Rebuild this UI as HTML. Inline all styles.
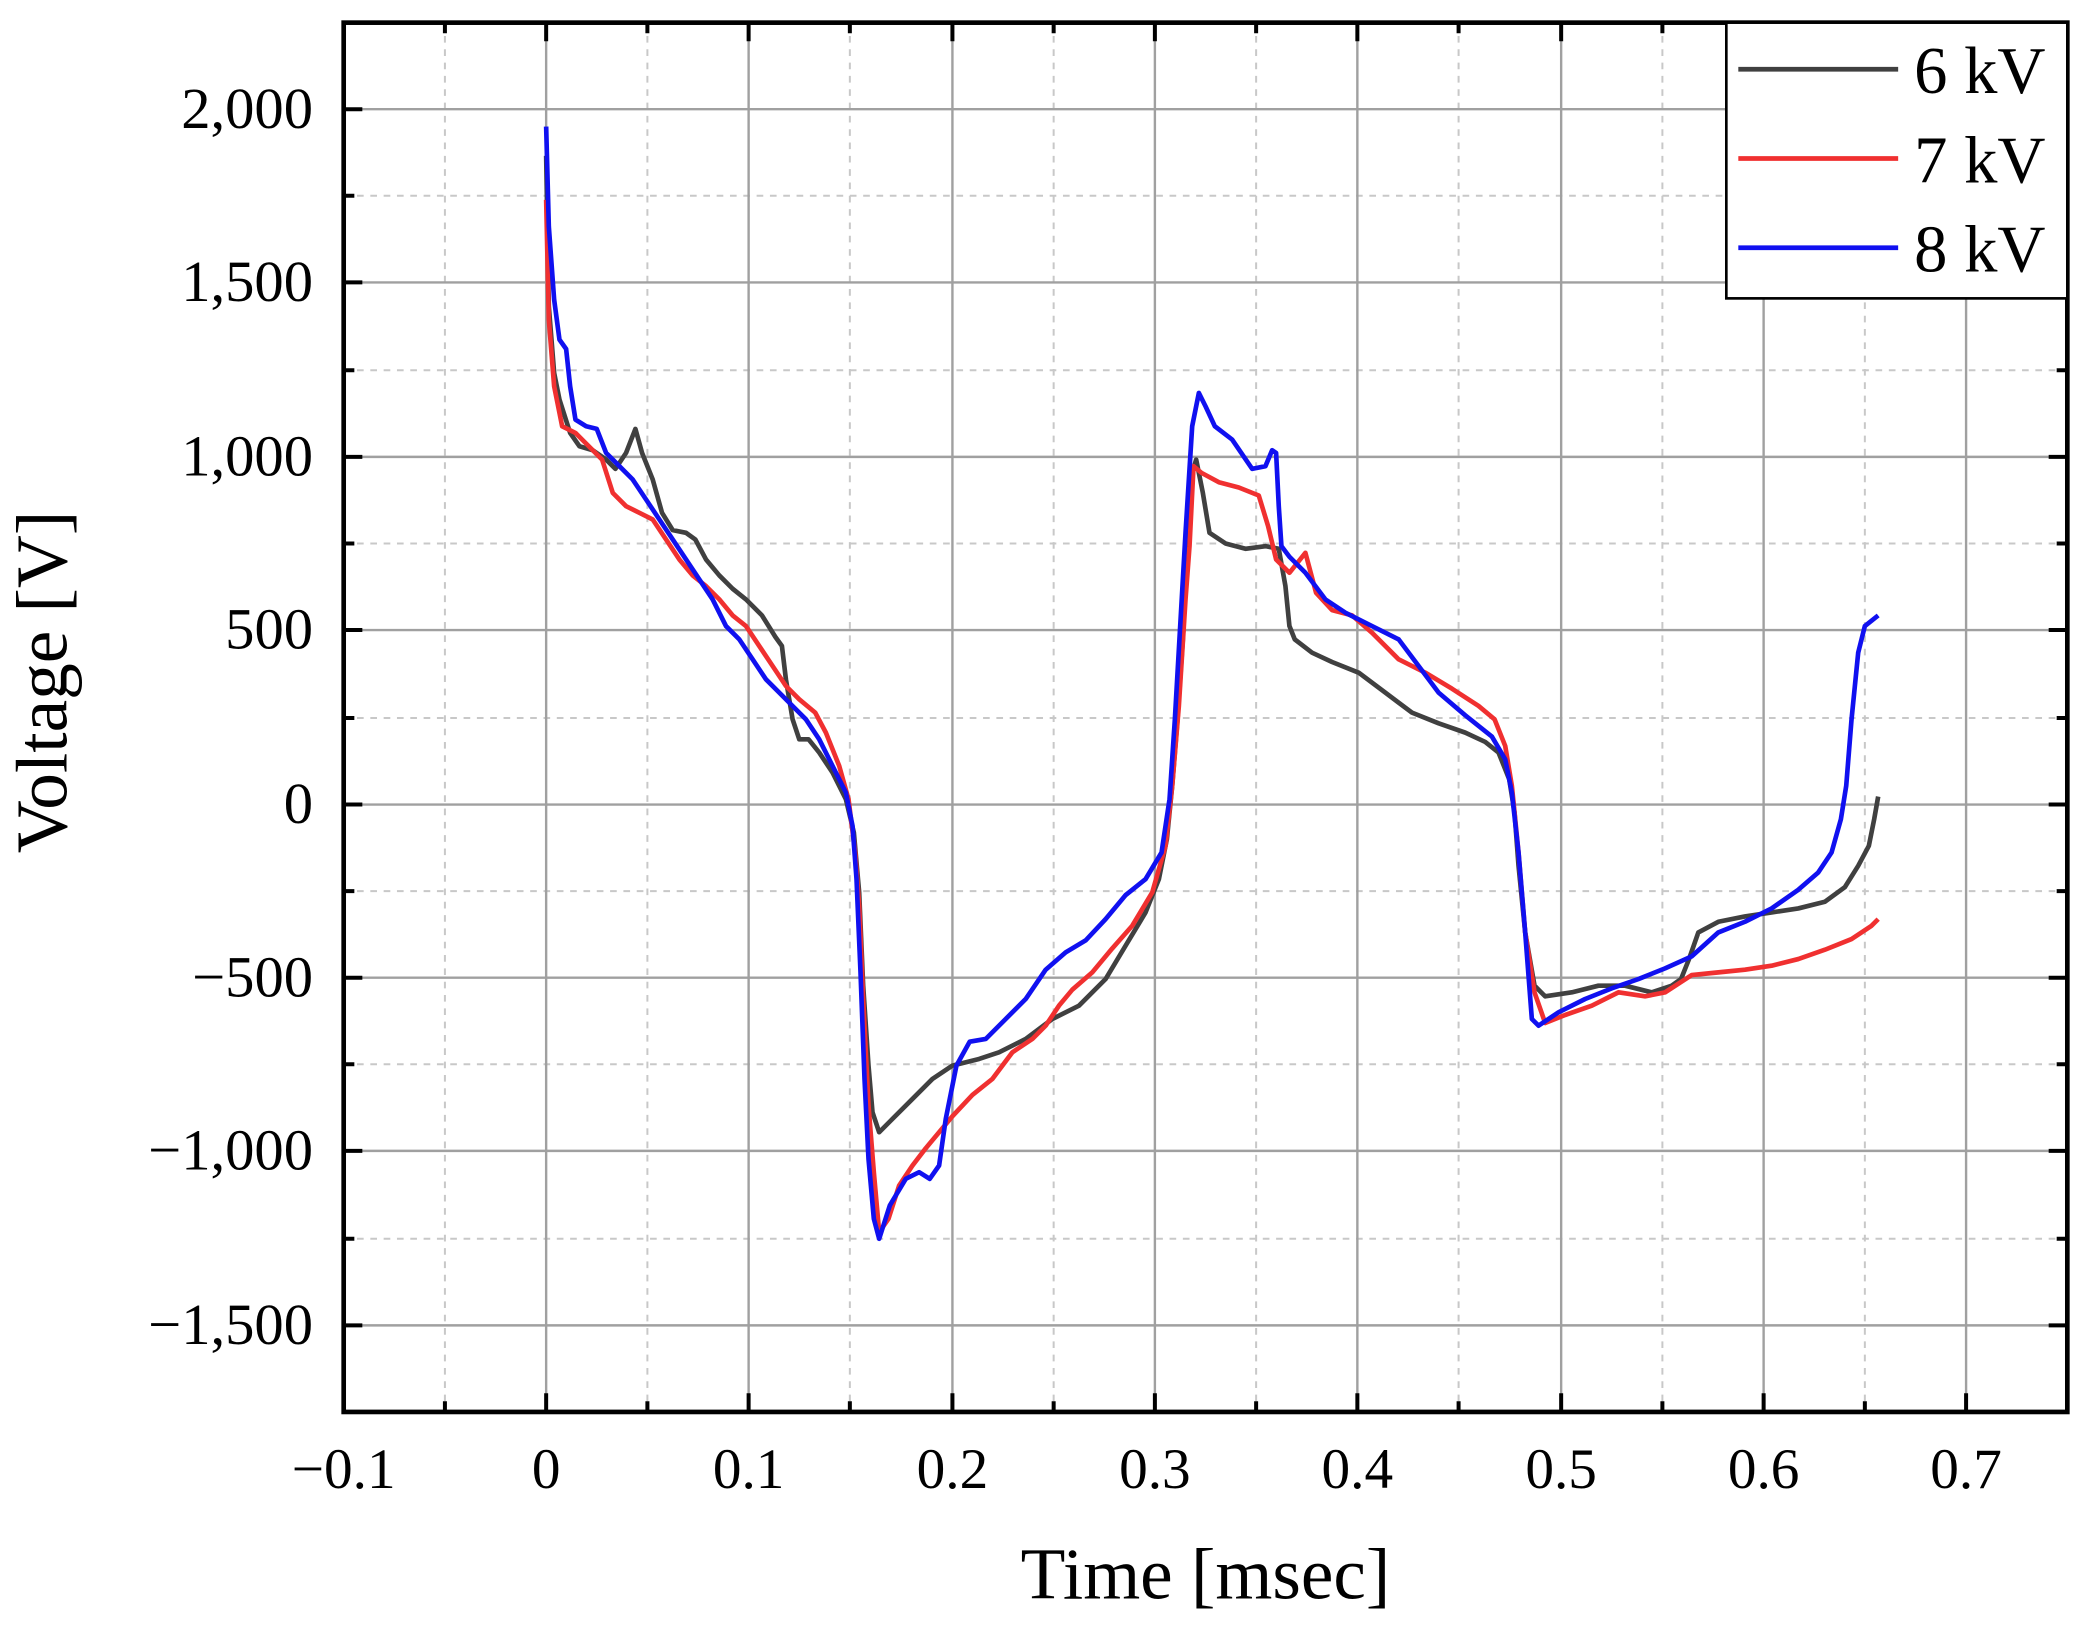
<!DOCTYPE html>
<html><head><meta charset="utf-8"><style>html,body{margin:0;padding:0;background:#fff}svg{display:block}</style></head>
<body>
<svg width="2082" height="1628" viewBox="0 0 1563 1222.2" xmlns="http://www.w3.org/2000/svg" font-family="Liberation Serif, serif">
<rect width="1563" height="1223" fill="#fff"/>
<g stroke="#c8c8c8" stroke-width="1.5" stroke-dasharray="5,5">
<line x1="334" y1="17" x2="334" y2="1060"/><line x1="486" y1="17" x2="486" y2="1060"/><line x1="638" y1="17" x2="638" y2="1060"/><line x1="791" y1="17" x2="791" y2="1060"/><line x1="943" y1="17" x2="943" y2="1060"/><line x1="1095" y1="17" x2="1095" y2="1060"/><line x1="1248" y1="17" x2="1248" y2="1060"/><line x1="1400" y1="17" x2="1400" y2="1060"/>
<line x1="258" y1="147" x2="1552" y2="147"/><line x1="258" y1="278" x2="1552" y2="278"/><line x1="258" y1="408" x2="1552" y2="408"/><line x1="258" y1="539" x2="1552" y2="539"/><line x1="258" y1="669" x2="1552" y2="669"/><line x1="258" y1="799" x2="1552" y2="799"/><line x1="258" y1="930" x2="1552" y2="930"/>
</g>
<g stroke="#a0a0a0" stroke-width="1.8">
<line x1="410" y1="17" x2="410" y2="1060"/><line x1="562" y1="17" x2="562" y2="1060"/><line x1="715" y1="17" x2="715" y2="1060"/><line x1="867" y1="17" x2="867" y2="1060"/><line x1="1019" y1="17" x2="1019" y2="1060"/><line x1="1172" y1="17" x2="1172" y2="1060"/><line x1="1324" y1="17" x2="1324" y2="1060"/><line x1="1476" y1="17" x2="1476" y2="1060"/>
<line x1="258" y1="82" x2="1552" y2="82"/><line x1="258" y1="212" x2="1552" y2="212"/><line x1="258" y1="343" x2="1552" y2="343"/><line x1="258" y1="473" x2="1552" y2="473"/><line x1="258" y1="604" x2="1552" y2="604"/><line x1="258" y1="734" x2="1552" y2="734"/><line x1="258" y1="864" x2="1552" y2="864"/><line x1="258" y1="995" x2="1552" y2="995"/>
</g>
<g fill="none" stroke-width="3.5" stroke-linejoin="round">
<polyline stroke="#404040" points="410,117 412,230 416,280 420,300 428,325 435,335 445,338 455,345 462,352 470,340 477,322 482,340 490,360 497,385 505,398 515,400 522,405 530,420 540,432 550,442 560,450 572,462 582,478 587,485 590,510 595,540 600,555 607,555 615,565 625,580 635,600 641,625 645,670 648,740 652,800 655,835 660,850 670,840 685,825 700,810 715,800 735,795 750,790 770,780 790,765 810,755 830,735 845,710 860,685 870,660 876,630 880,590 884,540 888,480 892,400 895,355 898,345 903,370 908,400 920,408 935,412 950,410 960,412 965,440 968,470 972,480 985,490 1000,497 1020,505 1040,520 1060,535 1080,543 1100,550 1115,557 1125,565 1133,585 1137,610 1140,650 1145,700 1152,740 1160,748 1180,745 1200,740 1220,740 1240,745 1255,740 1262,735 1268,720 1275,700 1290,692 1310,688 1330,685 1350,682 1370,677 1385,666 1395,650 1403,635 1407,615 1410,598"/>
<polyline stroke="#f03030" points="410,150 412,240 416,290 422,320 432,325 442,335 452,345 460,370 470,380 480,385 490,390 500,405 510,420 520,432 530,440 540,450 550,462 560,470 570,485 580,500 590,515 600,525 612,535 620,550 630,575 637,600 642,640 645,680 648,750 652,830 656,880 660,925 667,915 675,890 685,875 695,862 705,850 715,838 730,822 745,810 760,790 775,780 785,770 795,755 805,743 820,730 835,712 850,695 865,670 875,635 880,590 885,530 890,450 893,410 896,350 902,355 915,362 930,366 945,372 952,395 958,420 968,430 980,415 988,445 1000,458 1015,462 1030,475 1050,495 1070,505 1090,517 1110,530 1122,540 1130,560 1135,590 1140,640 1145,700 1152,745 1160,768 1175,762 1195,755 1215,745 1235,748 1250,745 1270,732 1290,730 1310,728 1330,725 1350,720 1370,713 1390,705 1405,695 1410,690"/>
<polyline stroke="#1010f0" points="410,95 412,170 416,225 420,255 425,262 428,290 432,315 440,320 448,322 455,340 465,350 475,360 485,375 495,390 505,405 515,420 525,435 535,450 545,470 555,480 565,495 575,510 585,520 595,530 605,540 615,555 625,575 635,595 640,620 643,660 646,730 649,810 652,870 656,915 660,930 668,905 680,885 690,880 698,885 705,875 710,840 718,800 728,782 740,780 755,765 770,750 785,728 800,715 815,706 830,690 845,672 860,660 872,640 878,600 882,540 886,470 890,400 895,320 900,295 905,305 912,320 925,330 940,352 950,350 955,338 958,340 960,380 962,410 968,418 980,430 995,450 1010,460 1030,470 1050,480 1065,500 1080,520 1100,537 1120,553 1130,570 1135,595 1140,640 1145,700 1150,765 1155,770 1170,760 1190,750 1210,742 1230,735 1250,727 1270,718 1290,700 1310,692 1330,682 1350,668 1365,655 1375,640 1382,615 1386,590 1390,540 1395,490 1400,470 1410,462"/>
</g>
<g stroke="#000" stroke-width="3">
<path d="M410 1060v-14M562 1060v-14M715 1060v-14M867 1060v-14M1019 1060v-14M1172 1060v-14M1324 1060v-14M1476 1060v-14M334 1060v-8M486 1060v-8M638 1060v-8M791 1060v-8M943 1060v-8M1095 1060v-8M1248 1060v-8M1400 1060v-8"/>
<path d="M410 17v14M562 17v14M715 17v14M867 17v14M1019 17v14M1172 17v14M1324 17v14M1476 17v14M334 17v8M486 17v8M638 17v8M791 17v8M943 17v8M1095 17v8M1248 17v8M1400 17v8"/>
<path d="M258 82h14M258 212h14M258 343h14M258 473h14M258 604h14M258 734h14M258 864h14M258 995h14M258 147h8M258 278h8M258 408h8M258 539h8M258 669h8M258 799h8M258 930h8"/>
<path d="M1552 82h-14M1552 212h-14M1552 343h-14M1552 473h-14M1552 604h-14M1552 734h-14M1552 864h-14M1552 995h-14M1552 147h-8M1552 278h-8M1552 408h-8M1552 539h-8M1552 669h-8M1552 799h-8M1552 930h-8"/>
</g>
<rect x="258" y="17" width="1294" height="1043" fill="none" stroke="#000" stroke-width="3.5"/>
<g font-size="44" fill="#000" text-anchor="end">
<text x="235" y="96">2,000</text><text x="235" y="226">1,500</text><text x="235" y="357">1,000</text><text x="235" y="487">500</text><text x="235" y="618">0</text><text x="235" y="748">−500</text><text x="235" y="878">−1,000</text><text x="235" y="1009">−1,500</text>
</g>
<g font-size="43" fill="#000" text-anchor="middle">
<text x="258" y="1117">−0.1</text><text x="410" y="1117">0</text><text x="562" y="1117">0.1</text><text x="715" y="1117">0.2</text><text x="867" y="1117">0.3</text><text x="1019" y="1117">0.4</text><text x="1172" y="1117">0.5</text><text x="1324" y="1117">0.6</text><text x="1476" y="1117">0.7</text>
</g>
<text x="905" y="1200" font-size="55" text-anchor="middle">Time [msec]</text>
<text transform="translate(50,512) rotate(-90)" font-size="55" text-anchor="middle">Voltage [V]</text>
<rect x="1296" y="17" width="256" height="207" fill="#fff" stroke="#000" stroke-width="2"/>
<line x1="1305" y1="52" x2="1425" y2="52" stroke="#404040" stroke-width="3.5"/>
<line x1="1305" y1="119" x2="1425" y2="119" stroke="#f03030" stroke-width="3.5"/>
<line x1="1305" y1="186" x2="1425" y2="186" stroke="#1010f0" stroke-width="3.5"/>
<g font-size="50" fill="#000"><text x="1437" y="70">6 kV</text><text x="1437" y="137">7 kV</text><text x="1437" y="204">8 kV</text></g>
</svg>
</body></html>
